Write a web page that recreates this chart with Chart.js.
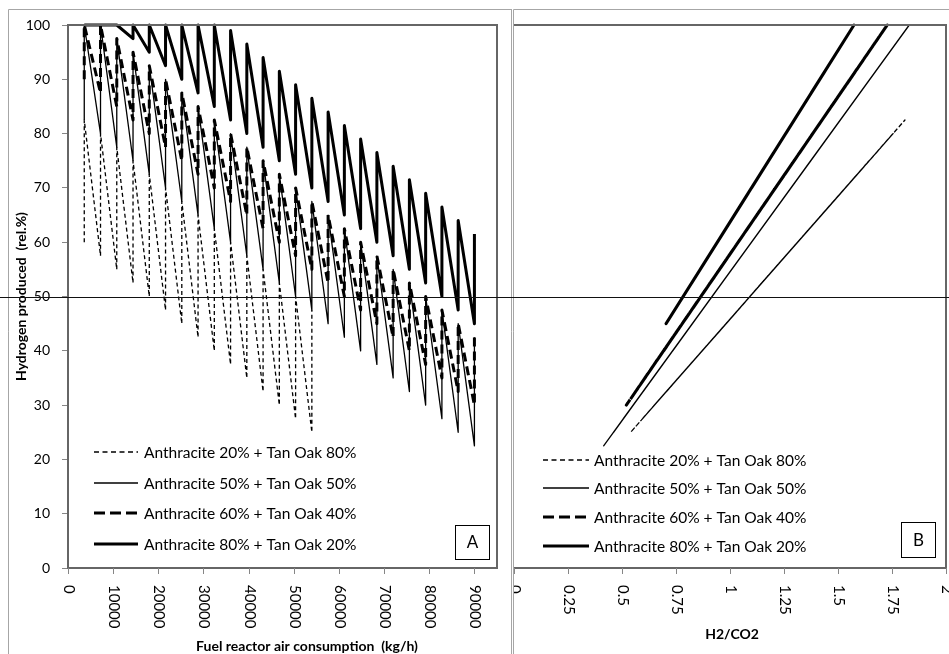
<!DOCTYPE html>
<html lang="en">
<head>
<meta charset="UTF-8">
<title>Hydrogen produced - A / B</title>
<script src="https://cdn.jsdelivr.net/npm/chart.js"></script>
<style>
    body { margin: 0; background: #fff; }
    #wrap { position: relative; width: 949px; height: 654px; overflow: hidden; }
    #chartA { position: absolute; left: 0; top: 0; }
    #chartB { position: absolute; left: 512px; top: 0; }
</style>
</head>
<body>
<div id="wrap">
    <canvas id="chartA" width="512" height="654"></canvas>
    <canvas id="chartB" width="437" height="654"></canvas>
</div>
<script>
    // fuel reactor air consumption (kg/h), one value per tooth
    var airFlow = [3600, 7200, 10800, 14400, 18000, 21600, 25200, 28800, 32400, 36000, 39600, 43200, 46800,
        50400, 54000, 57600, 61200, 64800, 68400, 72000, 75600, 79200, 82800, 86400, 90000];

    var seriesNames = ['Anthracite 20% + Tan Oak 80%', 'Anthracite 50% + Tan Oak 50%',
        'Anthracite 60% + Tan Oak 40%', 'Anthracite 80% + Tan Oak 20%'];

    // hydrogen produced (rel.%) - bottom and top of each tooth
    var h2Low2080 = [60, 57.5, 55, 52.5, 50, 47.5, 45, 42.5, 40, 37.5, 35, 32.5, 30, 27.5, 25];
    var h2High2080 = [82.5, 80, 77.5, 75, 72.5, 70, 67.5, 65, 62.5, 60, 57.5, 55, 52.5, 50, 47.5];
    var h2Low5050 = [82.5, 80, 77.5, 75, 72.5, 70, 67.5, 65, 62.5, 60, 57.5, 55, 52.5, 50, 47.5, 45, 42.5, 40,
        37.5, 35, 32.5, 30, 27.5, 25, 22.5];
    var h2High5050 = [100, 100, 97.5, 95, 92.5, 90, 87.5, 85, 82.5, 80, 77.5, 75, 72.5, 70, 67.5, 65, 62.5, 60,
        57.5, 55, 52.5, 50, 47.5, 45, 42.5];
    var h2Low6040 = [90, 87.5, 85, 82.5, 80, 77.5, 75, 72.5, 70, 67.5, 65, 62.5, 60, 57.5, 55, 52.5, 50, 47.5,
        45, 42.5, 40, 37.5, 35, 32.5, 30];
    var h2High6040 = [100, 100, 97.5, 95, 92.5, 90, 87.5, 85, 82.5, 80, 77.5, 75, 72.5, 70, 67.5, 65, 62.5, 60,
        57.5, 55, 52.5, 50, 47.5, 45, 42.5];
    var h2Low8020 = [100, 100, 100, 97.5, 95, 92.5, 90, 87.5, 85, 82.5, 80, 77.5, 75, 72.5, 70, 67.5, 65, 62.5,
        60, 57.5, 55, 52.5, 50, 47.5, 45];
    var h2High8020 = [100, 100, 100, 100, 100, 100, 100, 100, 100, 99, 96.5, 94, 91.5, 89, 86.5, 84, 81.5, 79,
        76.5, 74, 71.5, 69, 66.5, 64, 61.5];

    // H2/CO2 ratio at the same points
    var ratioLow2080 = [1.313, 1.258, 1.203, 1.147, 1.092, 1.037, 0.982, 0.927, 0.871, 0.816, 0.761, 0.706,
        0.650, 0.595, 0.540];
    var ratioHigh2080 = [1.810, 1.755, 1.700, 1.644, 1.589, 1.534, 1.479, 1.424, 1.368, 1.313, 1.258, 1.203,
        1.147, 1.092, 1.037];
    var ratioLow5050 = [1.510, 1.465, 1.419, 1.374, 1.328, 1.282, 1.237, 1.191, 1.145, 1.100, 1.054, 1.008,
        0.963, 0.917, 0.871, 0.826, 0.780, 0.735, 0.689, 0.643, 0.598, 0.552, 0.506, 0.461, 0.415];
    var ratioHigh5050 = [1.830, 1.830, 1.784, 1.739, 1.693, 1.647, 1.602, 1.556, 1.510, 1.465, 1.419, 1.374,
        1.328, 1.282, 1.237, 1.191, 1.145, 1.100, 1.054, 1.008, 0.963, 0.917, 0.871, 0.826, 0.780];
    var ratioLow6040 = [1.556, 1.512, 1.469, 1.426, 1.383, 1.340, 1.297, 1.254, 1.210, 1.167, 1.124, 1.081,
        1.038, 0.995, 0.952, 0.908, 0.865, 0.822, 0.779, 0.736, 0.693, 0.649, 0.606, 0.563, 0.520];
    var ratioHigh6040 = [1.728, 1.728, 1.685, 1.642, 1.599, 1.556, 1.512, 1.469, 1.426, 1.383, 1.340, 1.297,
        1.254, 1.210, 1.167, 1.124, 1.081, 1.038, 0.995, 0.952, 0.908, 0.865, 0.822, 0.779, 0.736];
    var ratioLow8020 = [1.574, 1.574, 1.574, 1.535, 1.495, 1.455, 1.416, 1.376, 1.337, 1.297, 1.258, 1.218,
        1.179, 1.139, 1.100, 1.060, 1.020, 0.981, 0.941, 0.902, 0.862, 0.823, 0.783, 0.744, 0.704];
    var ratioHigh8020 = [1.574, 1.574, 1.574, 1.574, 1.574, 1.574, 1.574, 1.574, 1.574, 1.558, 1.519, 1.479,
        1.440, 1.400, 1.361, 1.321, 1.281, 1.242, 1.202, 1.163, 1.123, 1.084, 1.044, 1.005, 0.965];

    // axis ticks
    var airTicks = [0, 10000, 20000, 30000, 40000, 50000, 60000, 70000, 80000, 90000];
    var ratioTicks = [0, 0.25, 0.5, 0.75, 1, 1.25, 1.5, 1.75, 2];
    var h2Ticks = [0, 10, 20, 30, 40, 50, 60, 70, 80, 90, 100];
    var refLevel = 50;

    var lineStyles = [
        { borderWidth: 1.3, borderDash: [4, 3] },
        { borderWidth: 1.3, borderDash: [] },
        { borderWidth: 3, borderDash: [9, 5] },
        { borderWidth: 3, borderDash: [] }
    ];

    Chart.defaults.font.family = 'Lato, "Open Sans", sans-serif';
    Chart.defaults.color = '#000';

    // low -> high at each x, then down to the next tooth
    function sawtooth(xLow, xHigh, lows, highs) {
        var pts = [];
        for (var i = 0; i < lows.length; i++) {
            pts.push({ x: xLow[i], y: lows[i] });
            pts.push({ x: xHigh[i], y: highs[i] });
        }
        return pts;
    }

    function makeDatasets(pointSets) {
        return pointSets.map(function (pts, i) {
            return {
                label: seriesNames[i],
                data: pts,
                showLine: true,
                pointRadius: 0,
                borderColor: '#000',
                backgroundColor: '#000',
                borderWidth: lineStyles[i].borderWidth,
                borderDash: lineStyles[i].borderDash,
                borderJoinStyle: 'round',
                tension: 0,
                clip: 2
            };
        });
    }

    var panelDecor = {
        id: 'panelDecor',
        afterDraw: function (chart, args, o) {
            var ctx = chart.ctx;
            var area = chart.chartArea;
            var xs = chart.scales.x;
            var ys = chart.scales.y;
            ctx.save();

            // outer chart frame
            ctx.strokeStyle = '#a6a6a6';
            ctx.lineWidth = 1;
            ctx.setLineDash([]);
            ctx.beginPath();
            ctx.moveTo(o.frameLeft + 0.5, chart.height);
            ctx.lineTo(o.frameLeft + 0.5, 9.5);
            ctx.lineTo(chart.width, 9.5);
            if (o.frameRight) {
                ctx.moveTo(o.frameRight + 0.5, 9.5);
                ctx.lineTo(o.frameRight + 0.5, chart.height);
            }
            ctx.stroke();

            // plot border
            ctx.strokeStyle = '#666';
            ctx.lineWidth = 2;
            ctx.beginPath();
            ctx.moveTo(area.left, area.top);
            ctx.lineTo(area.right, area.top);
            ctx.lineTo(area.right, area.bottom);
            ctx.lineTo(area.left, area.bottom);
            ctx.stroke();

            // 50 % reference line across the whole picture
            var yRef = Math.round(ys.getPixelForValue(refLevel)) + 0.5;
            ctx.strokeStyle = '#111';
            ctx.lineWidth = 1.2;
            ctx.beginPath();
            ctx.moveTo(0, yRef);
            ctx.lineTo(chart.width, yRef);
            ctx.stroke();

            // x ticks and rotated labels
            ctx.beginPath();
            ctx.rect(o.frameLeft + 1, 0, chart.width, chart.height);
            ctx.clip();
            ctx.strokeStyle = '#868686';
            ctx.lineWidth = 1;
            ctx.fillStyle = '#000';
            ctx.font = '15px Lato';
            o.ticks.forEach(function (v) {
                var px = Math.round(xs.getPixelForValue(v)) + 0.5;
                ctx.beginPath();
                ctx.moveTo(px, area.bottom);
                ctx.lineTo(px, area.bottom + 6);
                ctx.stroke();
                ctx.save();
                ctx.translate(px, area.bottom + 17);
                ctx.rotate(Math.PI / 2);
                ctx.textAlign = 'left';
                ctx.textBaseline = 'middle';
                ctx.fillText(String(v), 0, 0);
                ctx.restore();
            });

            // x title
            ctx.font = 'bold 14px Lato';
            ctx.textAlign = 'center';
            ctx.textBaseline = 'middle';
            ctx.fillText(o.xTitle, o.xTitleX, o.xTitleY);

            // legend inside the plot
            ctx.font = '15.5px Lato';
            ctx.textAlign = 'left';
            chart.data.datasets.forEach(function (ds, i) {
                var ly = o.legendY[i];
                ctx.strokeStyle = '#000';
                ctx.lineWidth = ds.borderWidth;
                ctx.setLineDash(ds.borderWidth > 2 && ds.borderDash.length ? [11, 5] : (ds.borderDash.length ? [5, 3.5] : []));
                ctx.beginPath();
                ctx.moveTo(o.legendX0, ly);
                ctx.lineTo(o.legendX1, ly);
                ctx.stroke();
                ctx.setLineDash([]);
                ctx.fillText(ds.label, o.legendText, ly + 1);
            });

            // panel letter box
            ctx.strokeStyle = '#000';
            ctx.lineWidth = 1;
            ctx.strokeRect(o.box[0] + 0.5, o.box[1] + 0.5, o.box[2], o.box[3]);
            ctx.font = '17px Lato';
            ctx.textAlign = 'center';
            ctx.fillText(o.letter, o.box[0] + o.box[2] / 2 + 0.5, o.box[1] + o.box[3] / 2 + 1);

            ctx.restore();
        }
    };

    var chartA = new Chart(document.getElementById('chartA'), {
        type: 'scatter',
        data: {
            datasets: makeDatasets([
                sawtooth(airFlow, airFlow, h2Low2080, h2High2080),
                sawtooth(airFlow, airFlow, h2Low5050, h2High5050),
                sawtooth(airFlow, airFlow, h2Low6040, h2High6040),
                sawtooth(airFlow, airFlow, h2Low8020, h2High8020)
            ])
        },
        options: {
            responsive: false,
            animation: false,
            events: [],
            layout: { padding: { left: 0, top: 25, right: 15, bottom: 86 } },
            plugins: {
                legend: { display: false },
                tooltip: { enabled: false },
                panelDecor: {
                    frameLeft: 8, frameRight: 511,
                    ticks: airTicks,
                    xTitle: 'Fuel reactor air consumption  (kg/h)', xTitleX: 307, xTitleY: 646,
                    legendX0: 94, legendX1: 138, legendText: 144, legendY: [452, 483, 513, 544],
                    box: [455, 525, 34, 34], letter: 'A'
                }
            },
            scales: {
                x: { type: 'linear', display: false, min: 0, max: 95000 },
                y: {
                    type: 'linear', min: 0, max: 100,
                    afterBuildTicks: function (s) { s.ticks = h2Ticks.map(function (v) { return { value: v }; }); },
                    afterFit: function (s) { s.width = 68; },
                    grid: { drawOnChartArea: false, tickLength: 6, color: '#868686' },
                    border: { color: '#666', width: 2 },
                    ticks: { padding: 12, font: { size: 14 }, color: '#000' },
                    title: {
                        display: true, text: 'Hydrogen produced  (rel.%)', color: '#000',
                        font: { size: 14, weight: 'bold' }, padding: { top: 13, bottom: 0 }
                    }
                }
            }
        },
        plugins: [panelDecor]
    });

    var chartB = new Chart(document.getElementById('chartB'), {
        type: 'scatter',
        data: {
            datasets: makeDatasets([
                sawtooth(ratioLow2080, ratioHigh2080, h2Low2080, h2High2080),
                sawtooth(ratioLow5050, ratioHigh5050, h2Low5050, h2High5050),
                sawtooth(ratioLow6040, ratioHigh6040, h2Low6040, h2High6040),
                sawtooth(ratioLow8020, ratioHigh8020, h2Low8020, h2High8020)
            ])
        },
        options: {
            responsive: false,
            animation: false,
            events: [],
            layout: { padding: { left: 2, top: 25, right: 3, bottom: 86 } },
            plugins: {
                legend: { display: false },
                tooltip: { enabled: false },
                panelDecor: {
                    frameLeft: 1, frameRight: 0,
                    ticks: ratioTicks,
                    xTitle: 'H2/CO2', xTitleX: 220, xTitleY: 634,
                    legendX0: 31, legendX1: 77, legendText: 82, legendY: [460, 488, 517, 546],
                    box: [389, 522, 34, 35], letter: 'B'
                }
            },
            scales: {
                x: { type: 'linear', display: false, min: 0, max: 2 },
                y: { type: 'linear', display: false, min: 0, max: 100 }
            }
        },
        plugins: [panelDecor]
    });
</script>
</body>
</html>
